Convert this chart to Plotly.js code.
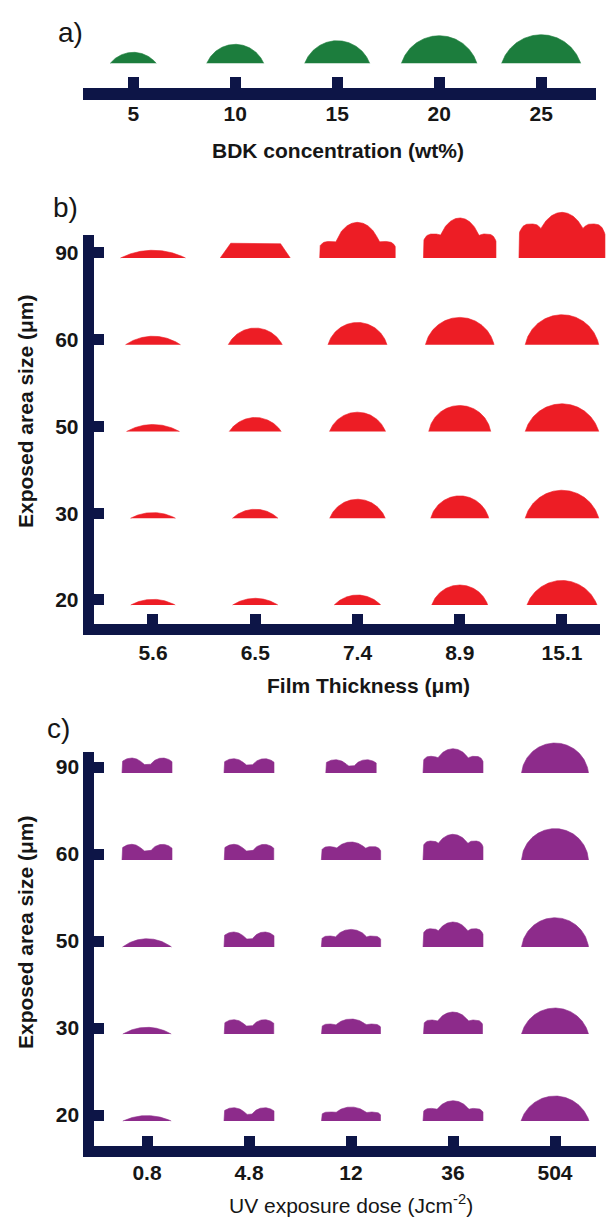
<!DOCTYPE html>
<html>
<head>
<meta charset="utf-8">
<script src="https://cdn.plot.ly/plotly-3.0.1.min.js"></script>
<style>
  html, body { margin: 0; padding: 0; background: #ffffff; }
  #fig { width: 607px; height: 1220px; }
</style>
</head>
<body>
<div id="fig"></div>
<script>
// ---------------- data ----------------
// a) polymer microlens profile vs. BDK concentration (profile width / height)
const bdkConc = ['5', '10', '15', '20', '25'];
const bdkWidth = [46, 57, 65, 75.5, 79];
const bdkHeight = [11, 19, 22.6, 27.6, 28.6];

// exposed area sizes (rows of panels b and c, bottom to top)
const areaSize = ['20', '30', '50', '60', '90'];

// b) profile vs. film thickness: kind, width, height, secondary height (shoulder)
const filmThickness = ['5.6', '6.5', '7.4', '8.9', '15.1'];
const filmShape = [
  ['cap', 'cap', 'cap', 'cap', 'cap'],
  ['cap', 'cap', 'cap', 'cap', 'cap'],
  ['cap', 'cap', 'cap', 'cap', 'cap'],
  ['cap', 'cap', 'cap', 'cap', 'cap'],
  ['cap', 'flat', 'tri', 'tri', 'tri']
];
const filmWidth = [
  [44.5, 45.3, 46.6, 56, 70],
  [45, 45.6, 55.6, 58, 73.6],
  [53, 52, 56, 62, 73.5],
  [55, 54, 59, 68.6, 73.5],
  [65, 70, 75.5, 72.5, 86]
];
const filmHeight = [
  [5.7, 6.7, 10, 20, 24.5],
  [5.7, 9, 19, 22.4, 28],
  [7, 14, 19.3, 26, 27.7],
  [8.5, 16.7, 22.3, 27.3, 30],
  [7.7, 14.7, 35.6, 40, 45.6]
];
const filmSecond = [
  [0, 0, 0, 0, 0],
  [0, 0, 0, 0, 0],
  [0, 0, 0, 0, 0],
  [0, 0, 0, 0, 0],
  [0, 0, 16.5, 24, 34]
];

// c) profile vs. UV exposure dose: kind, width, height, secondary height (dip / shoulder)
const uvDose = ['0.8', '4.8', '12', '36', '504'];
const uvShape = [
  ['cap', 'M', 'tri', 'tri', 'cap'],
  ['cap', 'M', 'tri', 'tri', 'cap'],
  ['cap', 'M', 'tri', 'tri', 'cap'],
  ['M', 'M', 'tri', 'tri', 'cap'],
  ['M', 'M', 'M', 'tri', 'cap']
];
const uvWidth = [
  [48.4, 50, 59, 60, 68],
  [48.4, 49.5, 59, 59, 67],
  [49, 50, 59.3, 60, 67],
  [50, 49.5, 59.3, 60, 67],
  [50, 50, 50.4, 60, 67]
];
const uvHeight = [
  [5.4, 13.3, 14, 20.3, 25],
  [6.7, 14.3, 15, 22, 26],
  [8.3, 15, 17.6, 25, 29.3],
  [15.7, 15.7, 18, 25.7, 31.4],
  [15, 14.3, 13.3, 24.3, 30]
];
const uvSecond = [
  [0, 6.6, 9, 12.6, 0],
  [0, 8, 10, 14, 0],
  [0, 8, 11, 18.3, 0],
  [9, 9, 13.4, 19, 0],
  [8.4, 8, 7, 16.7, 0]
];

// ---------------- styling / geometry ----------------
const W = 607, H = 1220;
const NAVY = '#0d1547';
const INK = '#161616';
const FONT = 'Liberation Sans, Arial, Helvetica, sans-serif';
const GREEN = '#1c7d3d', RED = '#ed1d25', PURPLE = '#8d2b8b';

const xDom = f => [f.l / W, f.r / W];
const yDom = f => [1 - f.b / H, 1 - f.t / H];

// profile outline (offsets in px from the cell centre, base at 0)
function profileOf(kind, w, h, h2) {
  const half = w / 2, n = 160;
  // rounded lobe: superellipse of exponent e
  const lobe = (x, c, a, p, e) => {
    const u = Math.abs((x - c) / a);
    return u < 1 ? p * Math.pow(1 - Math.pow(u, e), 1 / e) : 0;
  };
  let f;
  if (kind === 'cap') {
    const R = (half * half + h * h) / (2 * h);
    f = x => Math.max(0, Math.sqrt(Math.max(0, R * R - x * x)) - (R - h));
  } else if (kind === 'flat') {
    const run = 0.68 * h;
    f = x => Math.min(h, h * (half - Math.abs(x)) / run);
  } else if (kind === 'M') {
    f = x => Math.max(h2, lobe(x, -0.31 * w, 0.29 * w, h, 2), lobe(x, 0.31 * w, 0.29 * w, h, 2));
  } else {
    f = x => Math.max(lobe(x, 0, 0.32 * w, h, 2),
                      lobe(x, -0.36 * w, 0.16 * w, h2, 3),
                      lobe(x, 0.36 * w, 0.16 * w, h2, 3));
  }
  const xs = [-half], ys = [0];
  for (let k = 0; k <= n; k++) { const x = -half + w * k / n; xs.push(x); ys.push(f(x)); }
  xs.push(half); ys.push(0);
  return { xs, ys };
}

// panel frames (px) for the drawn axes, plus the wider frame used for the profiles
const panels = [
  { id: 1, mark: 4, frame: { l: 83.3, r: 596, t: 20, b: 88.3 }, xr: [-0.490, 4.538], yr: [-25, 43.3],
    markFrame: { l: 0, r: W, t: 0, b: 88.3 }, base: 0, color: GREEN, showY: false,
    cats: bdkConc, rows: ['0'],
    shape: [bdkConc.map(() => 'cap')], width: [bdkWidth], height: [bdkHeight], second: [bdkConc.map(() => 0)],
    lw: 12, tlen: 11, standoff: -5 },
  { id: 2, mark: 5, frame: { l: 94, r: 600, t: 235, b: 624 }, xr: [-0.577, 4.372], yr: [-0.2767, 4.207],
    markFrame: { l: 0, r: W, t: 185, b: 624 }, base: -5, color: RED, showY: true,
    cats: filmThickness, rows: areaSize,
    shape: filmShape, width: filmWidth, height: filmHeight, second: filmSecond,
    lw: 11.3, tlen: 10, standoff: -1 },
  { id: 3, mark: 6, frame: { l: 94.3, r: 596, t: 751.7, b: 1146 }, xr: [-0.5167, 4.402], yr: [-0.3563, 4.176],
    markFrame: { l: 0, r: W, t: 715, b: 1146 }, base: -6, color: PURPLE, showY: true,
    cats: uvDose, rows: areaSize,
    shape: uvShape, width: uvWidth, height: uvHeight, second: uvSecond,
    lw: 11, tlen: 10, standoff: -2 }
];

const tickFont = { family: FONT, size: 21, weight: 700, color: INK };
const layout = {
  width: W, height: H,
  margin: { l: 0, r: 0, t: 0, b: 0 },
  paper_bgcolor: '#ffffff', plot_bgcolor: 'rgba(0,0,0,0)',
  showlegend: false,
  annotations: [],
  hovermode: false
};
const traces = [];

panels.forEach(p => {
  const f = p.frame, m = p.markFrame;
  const sx = p.id === 1 ? '' : p.id;
  // drawn axes
  layout['xaxis' + sx] = {
    domain: xDom(f), range: p.xr, anchor: 'y' + sx,
    tickmode: 'array', tickvals: p.cats.map((_, i) => i), ticktext: p.cats,
    ticks: 'inside', ticklen: p.tlen, tickwidth: 11, tickcolor: NAVY,
    showline: true, linewidth: p.lw, linecolor: NAVY, ticklabelstandoff: p.standoff,
    showgrid: false, zeroline: false, tickfont: tickFont, fixedrange: true
  };
  layout['yaxis' + sx] = p.showY ? {
    domain: yDom(f), range: p.yr, anchor: 'x' + sx,
    tickmode: 'array', tickvals: p.rows.map((_, j) => j), ticktext: p.rows,
    ticks: 'inside', ticklen: 10, tickwidth: 11, tickcolor: NAVY,
    showline: true, linewidth: p.lw, linecolor: NAVY,
    showgrid: false, zeroline: false, tickfont: tickFont, fixedrange: true
  } : {
    domain: yDom(f), range: p.yr, anchor: 'x' + sx, visible: false, fixedrange: true
  };
  traces.push({ type: 'scatter', x: [], y: [], xaxis: 'x' + sx, yaxis: 'y' + sx, hoverinfo: 'skip' });

  // profile axes share the same scale, over a larger frame
  const pxX = (f.r - f.l) / (p.xr[1] - p.xr[0]);
  const pxY = (f.b - f.t) / (p.yr[1] - p.yr[0]);
  const mxr = [p.xr[0] - (f.l - m.l) / pxX, p.xr[1] + (m.r - f.r) / pxX];
  const myr = [p.yr[0] - (m.b - f.b) / pxY, p.yr[1] + (f.t - m.t) / pxY];
  layout['xaxis' + p.mark] = { domain: xDom(m), range: mxr, anchor: 'y' + p.mark, visible: false, fixedrange: true };
  layout['yaxis' + p.mark] = { domain: yDom(m), range: myr, anchor: 'x' + p.mark, visible: false, fixedrange: true };

  p.shape.forEach((row, j) => {
    row.forEach((kind, i) => {
      const prof = profileOf(kind, p.width[j][i], p.height[j][i], p.second[j][i]);
      traces.push({
        type: 'scatter', mode: 'lines', fill: 'toself',
        x: prof.xs.map(v => i + v / pxX),
        y: prof.ys.map(v => j + (p.base + v) / pxY),
        xaxis: 'x' + p.mark, yaxis: 'y' + p.mark,
        line: { color: p.color, width: 0.6 }, fillcolor: p.color,
        hoverinfo: 'skip'
      });
    });
  });
});

// panel letters and axis titles
const ann = (x, y, text, opts) => Object.assign({
  xref: 'paper', yref: 'paper', x: x / W, y: 1 - y / H, text,
  showarrow: false, xanchor: 'center', yanchor: 'middle'
}, opts);
const letterFont = { family: FONT, size: 28, color: INK };
const titleFont = { family: FONT, size: 21, weight: 700, color: INK };
layout.annotations.push(
  ann(56, 32, 'a)', { xanchor: 'left', font: letterFont }),
  ann(51, 207, 'b)', { xanchor: 'left', font: letterFont }),
  ann(45, 728, 'c)', { xanchor: 'left', font: letterFont }),
  ann(338, 150, 'BDK concentration (wt%)', { font: titleFont }),
  ann(368, 685, 'Film Thickness (\u03bcm)', { font: titleFont }),
  ann(351, 1204, 'UV exposure dose (Jcm<sup>-2</sup>)', { font: { family: FONT, size: 21, color: INK } }),
  ann(25, 412, 'Exposed area size (\u03bcm)', { textangle: -90, font: titleFont }),
  ann(25, 933, 'Exposed area size (\u03bcm)', { textangle: -90, font: titleFont })
);

Plotly.newPlot('fig', traces, layout, { staticPlot: true, displayModeBar: false });
</script>
</body>
</html>
